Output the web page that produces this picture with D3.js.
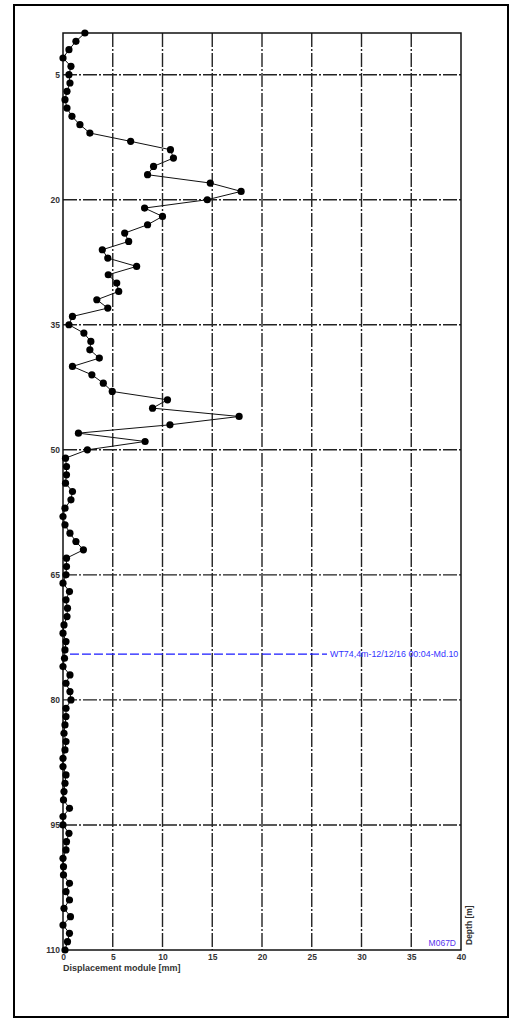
<!DOCTYPE html>
<html>
<head>
<meta charset="utf-8">
<script src="https://cdn.jsdelivr.net/npm/d3@7"></script>
<style>
  body { margin: 0; background: #fff; }
  text { font-family: "Liberation Sans", Arial, sans-serif; }
</style>
</head>
<body>
<div id="chart"></div>
<script>
// displacement module [mm], one reading per metre from 0 m down to 110 m
var displacement = [
  2.2, 1.3, 0.6, 0.0, 0.8, 0.6, 0.7, 0.4, 0.2, 0.4,
  0.9, 1.7, 2.7, 6.8, 10.8, 11.1, 9.1, 8.5, 14.8, 17.9,
  14.5, 8.2, 10.0, 8.5, 6.2, 6.6, 3.95, 4.5, 7.4, 4.55,
  5.4, 5.6, 3.4, 4.5, 0.95, 0.6, 2.1, 2.8, 2.7, 3.65,
  0.95, 2.9, 4.05, 4.95, 10.5, 9.0, 17.7, 10.75, 1.55, 8.25,
  2.45, 0.25, 0.35, 0.35, 0.25, 0.95, 0.8, 0.2, 0.0, 0.2,
  0.7, 1.3, 2.05, 0.35, 0.35, 0.3, 0.0, 0.65, 0.3, 0.45,
  0.4, 0.1, 0.0, 0.3, 0.2, 0.15, 0.0, 0.7, 0.3, 0.7,
  0.8, 0.3, 0.3, 0.2, 0.1, 0.3, 0.2, 0.0, 0.0, 0.3,
  0.2, 0.1, 0.05, 0.65, 0.0, 0.0, 0.6, 0.35, 0.3, 0.0,
  0.05, 0.05, 0.65, 0.3, 0.65, 0.1, 0.75, 0.0, 0.65, 0.45,
  0.2
];
var depths = displacement.map(function(d, i) { return i; });

var xTicks = [0, 5, 10, 15, 20, 25, 30, 35, 40];
var yTicks = [5, 20, 35, 50, 65, 80, 95, 110];
var yGrid = [5, 20, 35, 50, 65, 80, 95];

var markerDepth = 74.5;
var markerLabel = "WT74,4m-12/12/16 00:04-Md.10";
var stationLabel = "M067D";

var width = 511, height = 1019;
var svg = d3.select("#chart").append("svg")
    .attr("width", width)
    .attr("height", height);

// outer page frame
svg.append("rect")
    .attr("x", 14).attr("y", 5)
    .attr("width", 494).attr("height", 1012)
    .attr("fill", "none")
    .attr("stroke", "#000")
    .attr("stroke-width", 2);

var pLeft = 63, pRight = 461, pTop = 33, pBottom = 950;

var x = d3.scaleLinear().domain([0, 40]).range([pLeft, pRight]);
var y = d3.scaleLinear().domain([0, 110]).range([pTop, pBottom]);

var grid = svg.append("g");

// vertical grid
grid.selectAll(".vg")
    .data(xTicks.slice(1, -1))
    .enter().append("line")
    .attr("x1", function(d) { return x(d); })
    .attr("x2", function(d) { return x(d); })
    .attr("y1", pTop).attr("y2", pBottom)
    .attr("stroke", "#222")
    .attr("stroke-width", 1.4)
    .attr("stroke-dasharray", "14,2,2,2");

// horizontal grid
grid.selectAll(".hg")
    .data(yGrid)
    .enter().append("line")
    .attr("x1", pLeft).attr("x2", pRight)
    .attr("y1", function(d) { return y(d); })
    .attr("y2", function(d) { return y(d); })
    .attr("stroke", "#222")
    .attr("stroke-width", 1.4)
    .attr("stroke-dasharray", "14,2,2,2");

// plot border
svg.append("rect")
    .attr("x", pLeft).attr("y", pTop)
    .attr("width", pRight - pLeft).attr("height", pBottom - pTop)
    .attr("fill", "none")
    .attr("stroke", "#111")
    .attr("stroke-width", 1.5);

// x axis labels
var xAxis = svg.append("g")
    .attr("transform", "translate(0," + pBottom + ")")
    .call(d3.axisBottom(x).tickValues(xTicks).tickSize(0).tickPadding(4));
xAxis.select(".domain").remove();
xAxis.selectAll("text")
    .attr("font-size", 8.5)
    .attr("font-weight", "bold")
    .attr("fill", "#333");

svg.append("text")
    .attr("x", pLeft).attr("y", 971)
    .attr("font-size", 9)
    .attr("font-weight", "bold")
    .attr("fill", "#333")
    .text("Displacement module [mm]");

// y axis labels
var yAxis = svg.append("g")
    .attr("transform", "translate(" + pLeft + ",0)")
    .call(d3.axisLeft(y).tickValues(yTicks).tickSize(0).tickPadding(3));
yAxis.select(".domain").remove();
yAxis.selectAll("text")
    .attr("font-size", 8.5)
    .attr("font-weight", "bold")
    .attr("fill", "#333");

svg.append("text")
    .attr("transform", "translate(472,945) rotate(-90)")
    .attr("font-size", 8.5)
    .attr("font-weight", "bold")
    .attr("fill", "#333")
    .text("Depth [m]");

svg.append("text")
    .attr("x", 456).attr("y", 946)
    .attr("text-anchor", "end")
    .attr("font-size", 8.5)
    .attr("fill", "#5533ee")
    .text(stationLabel);

// blue marker line
svg.append("line")
    .attr("x1", x(0.7)).attr("x2", 327)
    .attr("y1", y(markerDepth)).attr("y2", y(markerDepth))
    .attr("stroke", "#1a1aff")
    .attr("stroke-width", 1.2)
    .attr("stroke-dasharray", "9,3");

svg.append("text")
    .attr("x", 330).attr("y", y(markerDepth) + 3)
    .attr("font-size", 8.9)
    .attr("fill", "#3333ff")
    .text(markerLabel);

// profile
var pts = depths.map(function(d, i) { return [displacement[i], d]; });

svg.append("path")
    .datum(pts)
    .attr("fill", "none")
    .attr("stroke", "#111")
    .attr("stroke-width", 1)
    .attr("d", d3.line()
      .x(function(d) { return x(d[0]); })
      .y(function(d) { return y(d[1]); }));

svg.selectAll(".pt")
    .data(pts)
    .enter().append("circle")
    .attr("cx", function(d) { return x(d[0]); })
    .attr("cy", function(d) { return y(d[1]); })
    .attr("r", 3.6)
    .attr("fill", "#000");
</script>
</body>
</html>
